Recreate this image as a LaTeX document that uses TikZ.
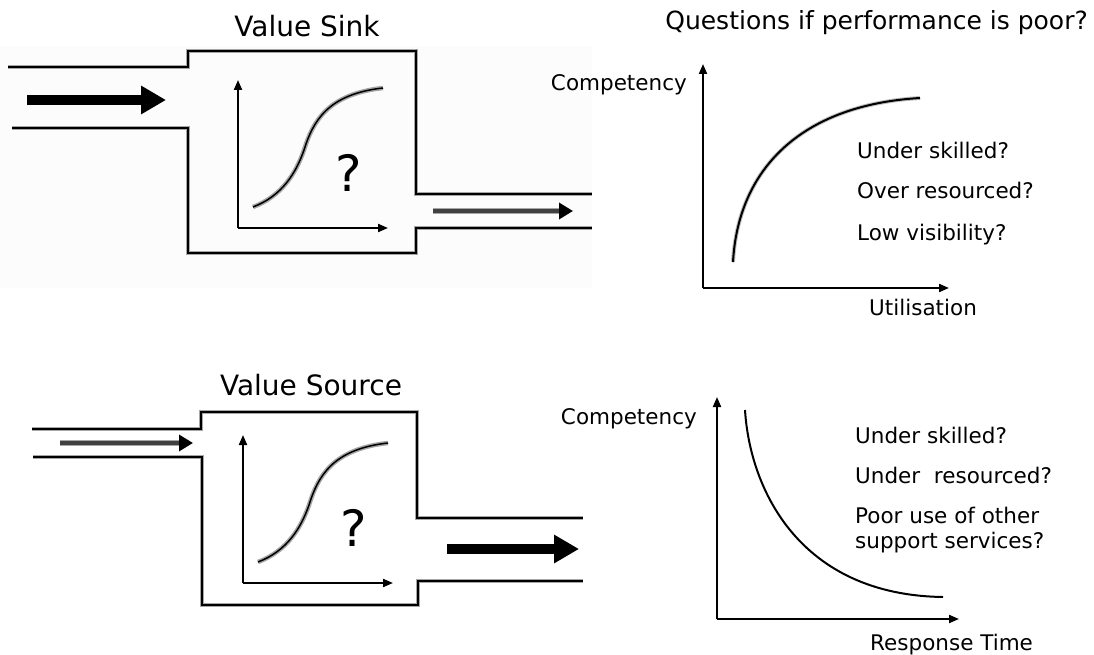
\documentclass[tikz,border=0pt]{standalone}
\usepackage{fontspec}
\setmainfont{DejaVu Sans}
\usetikzlibrary{arrows.meta}
\tikzset{
  wall/.style={line width=1.8pt, line join=miter, preaction={draw=black!35, line width=3.4pt}},
  bigarrow/.style={line width=10pt, -{Triangle[length=25pt,width=27pt]}},
  thinarrow/.style={line width=3.4pt, draw=black!75, -{Triangle[length=14pt,width=16pt,color=black]},
     preaction={draw=black!35, line width=6pt, arrows=-, shorten >=12pt}},
  axis/.style={line width=2pt, -{Triangle[length=10pt,width=8pt]}},
  rcurve/.style={line width=2pt, preaction={draw=black!25, line width=4pt}},
  scurve/.style={line width=1.5pt, preaction={draw=black!35, line width=4.5pt}},
  title/.style={font=\fontsize{28}{32}\selectfont, anchor=base},
  lbl/.style={font=\fontsize{21.5}{25}\selectfont, anchor=base west, inner sep=0pt},
  qmark/.style={font=\fontsize{50}{60}\selectfont, inner sep=0pt},
  sgraph/.pic={
    \coordinate (-o) at (0,0);
    \coordinate (-y) at (0,-148);
    \coordinate (-x) at (150,0);
    \draw[axis] (-o) -- (-y);
    \draw[axis] (-o) -- (-x);
    \draw[scurve] (15,-21) .. controls (44,-32) and (58,-55) .. (66,-78)
                  .. controls (75,-107) and (90,-134) .. (145,-140);
    \node[qmark] (-q) at (111,-55) {?};
  }
}
\begin{document}
\begin{tikzpicture}[x=1pt,y=-1pt]
\useasboundingbox (0,0) rectangle (1094,655);
\fill[black!1] (0,46) rectangle (592,288);

% ---------- Value Sink ----------
\node[title] (sinkT) at (307,37) {Value Sink};
\draw[wall] (8,67) -- (188,67) -- (188,51) -- (416,51) -- (416,194) -- (592,194);
\draw[wall] (12,128) -- (188,128) -- (188,253) -- (416,253) -- (416,228) -- (592,228);
\coordinate (sinkInA) at (27,100);
\coordinate (sinkInB) at (166,100);
\draw[bigarrow] (sinkInA) -- (sinkInB);
\coordinate (sinkOutA) at (433,211);
\coordinate (sinkOutB) at (573,211);
\draw[thinarrow] (sinkOutA) -- (sinkOutB);
\pic (g1) at (238,228) {sgraph};

% ---------- Value Source ----------
\node[title] (srcT) at (311,395) {Value Source};
\draw[wall] (32,429) -- (201,429) -- (201,412) -- (417,412) -- (417,518) -- (583,518);
\draw[wall] (33,457) -- (202,457) -- (202,605) -- (418,605) -- (418,581) -- (583,581);
\coordinate (srcInA) at (60,443);
\coordinate (srcInB) at (193,443);
\draw[thinarrow] (srcInA) -- (srcInB);
\coordinate (srcOutA) at (447,549);
\coordinate (srcOutB) at (579,549);
\draw[bigarrow] (srcOutA) -- (srcOutB);
\pic (g2) at (243,583) {sgraph};

% ---------- Upper right graph ----------
\node[font=\fontsize{25}{30}\selectfont, anchor=base east, inner sep=0pt] (qT) at (1088,30) {Questions if performance is poor?};
\coordinate (u0) at (703,288);
\coordinate (uy) at (703,64);
\coordinate (ux) at (949,288);
\draw[axis] (u0) -- (uy);
\draw[axis] (u0) -- (ux);
\draw[rcurve] (733,262) .. controls (738,170) and (800,105) .. (920,98);
\node[lbl, anchor=base east] (uC) at (687,91) {Competency};
\node[lbl] (u1) at (857,159) {Under skilled?};
\node[lbl] (u2) at (857,199) {Over resourced?};
\node[lbl] (u3) at (857,240) {Low visibility?};
\node[lbl] (uU) at (869,315) {Utilisation};

% ---------- Lower right graph ----------
\coordinate (l0) at (717,619);
\coordinate (ly) at (717,397);
\coordinate (lx) at (959,619);
\draw[axis] (l0) -- (ly);
\draw[axis] (l0) -- (lx);
\draw[line width=2pt] (745,410) .. controls (750,490) and (800,595) .. (943,597);
\node[lbl, anchor=base east] (lC) at (697,424) {Competency};
\node[lbl] (l1) at (855,443) {Under skilled?};
\node[lbl] (l2) at (855,483) {Under~~resourced?};
\node[lbl] (l3) at (855,523) {Poor use of other};
\node[lbl] (l4) at (855,548) {support services?};
\node[lbl] (lR) at (870,650) {Response Time};
\end{tikzpicture}
\end{document}
